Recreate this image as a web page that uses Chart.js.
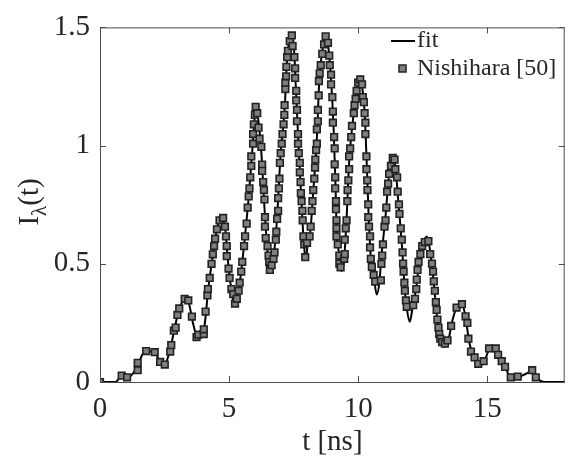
<!DOCTYPE html>
<html>
<head>
<meta charset="utf-8">
<script src="https://cdn.jsdelivr.net/npm/chart.js@4.4.0/dist/chart.umd.min.js"></script>
<style>
  html, body { margin: 0; padding: 0; background: #fff; }
  #wrap { width: 571px; height: 461px; }
</style>
</head>
<body>
<div id="wrap"><canvas id="chart" width="571" height="461"></canvas></div>
<script>
// tick labels
const xTicks = [0, 5, 10, 15];
const yTicks = [0, 0.5, 1, 1.5];

// fit curve
const fitT = [0, 0.6, 0.8, 1.1, 1.3, 1.5, 1.7, 2.1, 2.3, 2.5, 2.65, 2.8, 3.0, 3.15, 3.3, 3.45, 3.6, 3.75, 3.9,
  4.05, 4.2, 4.35, 4.5, 4.65, 4.75, 4.85, 4.95, 5.05, 5.2, 5.3, 5.45, 5.6, 5.75, 5.9, 6.0, 6.05, 6.12, 6.25,
  6.38, 6.5, 6.6, 6.7, 6.85, 7.0, 7.15, 7.25, 7.35, 7.45, 7.52, 7.6, 7.7, 7.8, 7.9, 7.97, 8.05, 8.15, 8.25,
  8.4, 8.5, 8.6, 8.72, 8.85, 8.95, 9.05, 9.12, 9.17, 9.25, 9.35, 9.45, 9.55, 9.65, 9.8, 9.95, 10.05, 10.15,
  10.25, 10.33, 10.4, 10.5, 10.6, 10.72, 10.82, 10.9, 11.05, 11.2, 11.35, 11.45, 11.55, 11.7, 11.8, 11.9,
  12.0, 12.1, 12.25, 12.4, 12.55, 12.65, 12.75, 12.9, 13.05, 13.2, 13.35, 13.5, 13.65, 13.85, 14.0, 14.15,
  14.3, 14.45, 14.6, 14.75, 14.9, 15.1, 15.35, 15.5, 15.7, 15.95, 16.2, 16.5, 16.78, 16.95, 17.2, 18];
const fitI = [0, 0, 0.02, 0.02, 0.04, 0.08, 0.125, 0.13, 0.09, 0.075, 0.11, 0.18, 0.28, 0.33, 0.355, 0.33, 0.25, 0.195, 0.19,
  0.24, 0.4, 0.52, 0.63, 0.69, 0.70, 0.65, 0.52, 0.42, 0.335, 0.34, 0.45, 0.6, 0.77, 0.98, 1.13, 1.165, 1.12, 0.97,
  0.72, 0.54, 0.475, 0.51, 0.68, 0.97, 1.15, 1.37, 1.45, 1.475, 1.4, 1.21, 0.98, 0.77, 0.58, 0.52, 0.59, 0.64, 0.79,
  1.03, 1.29, 1.39, 1.47, 1.41, 1.28, 1.07, 0.84, 0.63, 0.55, 0.47, 0.51, 0.69, 0.93, 1.11, 1.24, 1.28, 1.25,
  1.14, 0.93, 0.72, 0.51, 0.45, 0.37, 0.42, 0.53, 0.69, 0.88, 0.955, 0.9, 0.77, 0.57, 0.4, 0.3,
  0.255, 0.31, 0.4, 0.54, 0.59, 0.615, 0.58, 0.45, 0.28, 0.18, 0.148, 0.18, 0.26, 0.325, 0.335, 0.28,
  0.17, 0.11, 0.08, 0.07, 0.09, 0.14, 0.14, 0.1, 0.06, 0.015, 0.02, 0.035, 0.05, 0.015, 0, 0];

const dataT = [0, 0.84, 1.05, 1.46, 1.46, 1.79, 2.12, 2.33, 2.51, 2.72, 2.76, 2.86, 2.93, 3.0, 3.07, 3.28, 3.42, 3.56,
  3.74, 3.81, 4.02, 4.02, 4.09, 4.16, 4.18, 4.25, 4.32, 4.37, 4.42, 4.46, 4.53, 4.63, 4.77, 4.84, 4.88, 4.91, 4.91,
  4.98, 5.02, 5.09, 5.16, 5.23, 5.30, 5.37, 5.41, 5.47, 5.51, 5.58, 5.62, 5.68, 5.72, 5.76, 5.79, 5.82, 5.86, 5.86,
  5.93, 5.93, 5.96, 6.0, 6.03, 6.09, 6.14, 6.18, 6.25, 6.28, 6.28, 6.32, 6.35, 6.37, 6.39, 6.39, 6.42, 6.49, 6.53,
  6.55, 6.58, 6.65, 6.72, 6.76, 6.81, 6.83, 6.86, 6.90, 6.90, 6.93, 6.95, 6.97, 7.0, 7.04, 7.07, 7.11, 7.14, 7.15,
  7.18, 7.18, 7.21, 7.22, 7.25, 7.28, 7.35, 7.43, 7.46, 7.53, 7.56, 7.56, 7.60, 7.60, 7.63, 7.63, 7.67, 7.67, 7.70,
  7.74, 7.74, 7.77, 7.78, 7.81, 7.84, 7.85, 7.88, 7.91, 7.95, 8.02, 8.12, 8.16, 8.20, 8.23, 8.26, 8.30, 8.33, 8.34,
  8.37, 8.40, 8.40, 8.44, 8.44, 8.47, 8.48, 8.51, 8.55, 8.61, 8.68, 8.74, 8.83, 8.88, 8.90, 8.95, 8.95, 9.0, 9.02,
  9.02, 9.07, 9.09, 9.09, 9.11, 9.11, 9.14, 9.14, 9.16, 9.16, 9.16, 9.21, 9.27, 9.27, 9.32, 9.46, 9.48, 9.48, 9.52,
  9.55, 9.58, 9.59, 9.62, 9.65, 9.65, 9.69, 9.73, 9.76, 9.83, 9.86, 9.90, 9.94, 10.0, 10.08, 10.15, 10.18, 10.22,
  10.25, 10.28, 10.28, 10.32, 10.32, 10.35, 10.36, 10.39, 10.39, 10.42, 10.46, 10.46, 10.49, 10.53, 10.60, 10.66,
  10.88, 10.90, 10.93, 10.96, 11.02, 11.06, 11.09, 11.12, 11.16, 11.20, 11.27, 11.34, 11.41, 11.44, 11.51, 11.53,
  11.58, 11.60, 11.65, 11.69, 11.72, 11.74, 11.76, 11.79, 11.81, 11.85, 11.88, 12.13, 12.20, 12.25, 12.27, 12.30,
  12.34, 12.41, 12.48, 12.58, 12.72, 12.79, 12.86, 12.90, 12.93, 12.97, 13.01, 13.04, 13.07, 13.11, 13.14, 13.18,
  13.25, 13.36, 13.46, 13.60, 13.81, 14.02, 14.16, 14.23, 14.27, 14.37, 14.51, 14.65, 14.86, 15.07, 15.33, 15.42,
  15.56, 15.69, 15.91, 16.18, 16.74, 16.88];
const dataI = [0, 0.027, 0.02, 0.05, 0.081, 0.131, 0.126, 0.085, 0.074, 0.129, 0.156, 0.217, 0.23, 0.284, 0.311, 0.352, 0.345, 0.277,
  0.19, 0.20, 0.203, 0.223, 0.298, 0.366, 0.393, 0.44, 0.50, 0.54, 0.575, 0.606, 0.646, 0.684, 0.694, 0.657, 0.616, 0.575, 0.532,
  0.48, 0.44, 0.393, 0.372, 0.332, 0.352, 0.386, 0.42, 0.467, 0.508, 0.575, 0.616, 0.67, 0.738, 0.785, 0.819, 0.866, 0.914, 0.954,
  1.008, 1.049, 1.09, 1.13, 1.164, 1.137, 1.076, 1.029, 0.995, 0.92, 0.893, 0.846, 0.812, 0.772, 0.697, 0.657, 0.609, 0.575, 0.535,
  0.508, 0.474, 0.494, 0.521, 0.548, 0.602, 0.636, 0.69, 0.724, 0.778, 0.819, 0.86, 0.927, 0.968, 1.008, 1.049, 1.09, 1.13, 1.171,
  1.239, 1.266, 1.293, 1.333, 1.374, 1.401, 1.442, 1.466, 1.421, 1.374, 1.327, 1.286, 1.232, 1.191, 1.151, 1.103, 1.049, 1.008, 0.968,
  0.927, 0.887, 0.846, 0.799, 0.765, 0.724, 0.684, 0.616, 0.582, 0.528, 0.589, 0.616, 0.657, 0.724, 0.765, 0.812, 0.86, 0.907, 0.941,
  0.981, 1.008, 1.069, 1.103, 1.151, 1.212, 1.273, 1.306, 1.34, 1.388, 1.428, 1.462, 1.435, 1.381, 1.34, 1.30, 1.259, 1.205, 1.144,
  1.097, 1.036, 0.988, 0.921, 0.866, 0.819, 0.765, 0.731, 0.684, 0.65, 0.616, 0.582, 0.535, 0.501, 0.485, 0.521, 0.541, 0.602, 0.65,
  0.684, 0.765, 0.812, 0.853, 0.9, 0.954, 0.988, 1.036, 1.083, 1.137, 1.171, 1.198, 1.232, 1.266, 1.28, 1.259, 1.205, 1.184,
  1.137, 1.097, 1.049, 0.954, 0.9, 0.853, 0.812, 0.751, 0.697, 0.657, 0.616, 0.569, 0.521, 0.487, 0.453, 0.425,
  0.43, 0.50, 0.535, 0.582, 0.657, 0.684, 0.738, 0.805, 0.839, 0.88, 0.914, 0.948, 0.941, 0.9, 0.866, 0.805,
  0.751, 0.711, 0.65, 0.602, 0.548, 0.501, 0.467, 0.42, 0.386, 0.345, 0.318, 0.325, 0.352, 0.393, 0.433, 0.474,
  0.508, 0.541, 0.575, 0.592, 0.596, 0.541, 0.501, 0.467, 0.426, 0.386, 0.338, 0.305, 0.264, 0.23, 0.203, 0.183,
  0.169, 0.162, 0.176, 0.237, 0.315, 0.329, 0.278, 0.25, 0.183, 0.129, 0.104, 0.077, 0.088, 0.142, 0.142, 0.115,
  0.088, 0.064, 0.02, 0.023, 0.05, 0.02];

const SERIF = '"Liberation Serif", "Times New Roman", serif';
const AXIS = '#4d4d4d';
const MARK_FILL = '#7f7f7f';
const MARK_EDGE = '#222222';

// box, inward ticks, titles and legend, drawn MATLAB style
const frame = {
  id: 'frame',
  afterDraw(chart) {
    const { ctx, chartArea: a, scales } = chart;
    ctx.save();
    ctx.strokeStyle = AXIS;
    ctx.lineWidth = 1;
    ctx.strokeRect(a.left + 0.5, a.top + 0.5, a.right - a.left - 1, a.bottom - a.top);
    const tl = 6;
    ctx.beginPath();
    xTicks.forEach(v => {
      const px = Math.round(scales.x.getPixelForValue(v)) + 0.5;
      ctx.moveTo(px, a.bottom); ctx.lineTo(px, a.bottom - tl);
      ctx.moveTo(px, a.top); ctx.lineTo(px, a.top + tl);
    });
    yTicks.forEach(v => {
      const py = Math.round(scales.y.getPixelForValue(v)) + 0.5;
      ctx.moveTo(a.left, py); ctx.lineTo(a.left + tl, py);
      ctx.moveTo(a.right, py); ctx.lineTo(a.right - tl, py);
    });
    ctx.stroke();

    ctx.fillStyle = '#262626';
    // x title
    ctx.font = `29px ${SERIF}`;
    ctx.textAlign = 'center';
    ctx.textBaseline = 'alphabetic';
    ctx.fillText('t [ns]', (a.left + a.right) / 2, 450);

    // y title with subscript lambda
    ctx.save();
    ctx.translate(38, 202);
    ctx.rotate(-Math.PI / 2);
    ctx.textAlign = 'left';
    const big = `29px ${SERIF}`, small = `21px ${SERIF}`;
    ctx.font = big; const wI = ctx.measureText('I').width;
    ctx.font = small; const wL = ctx.measureText('λ').width;
    ctx.font = big; const wT = ctx.measureText('(t)').width;
    let x0 = -(wI + wL + wT) / 2;
    ctx.font = big; ctx.fillText('I', x0, 0);
    ctx.font = small; ctx.fillText('λ', x0 + wI, 8);
    ctx.font = big; ctx.fillText('(t)', x0 + wI + wL, 0);
    ctx.restore();

    // legend
    ctx.font = `24px ${SERIF}`;
    ctx.textAlign = 'left';
    ctx.textBaseline = 'middle';
    ctx.strokeStyle = '#000';
    ctx.lineWidth = 2;
    ctx.beginPath(); ctx.moveTo(391, 41); ctx.lineTo(415, 41); ctx.stroke();
    ctx.fillText('fit', 417, 41);
    ctx.fillStyle = MARK_FILL;
    ctx.strokeStyle = MARK_EDGE;
    ctx.lineWidth = 1.5;
    ctx.fillRect(399, 65, 7, 7);
    ctx.strokeRect(399, 65, 7, 7);
    ctx.fillStyle = '#262626';
    ctx.fillText('Nishihara [50]', 417, 69);
    ctx.restore();
  }
};

new Chart(document.getElementById('chart'), {
  type: 'scatter',
  data: {
    datasets: [
      {
        label: 'fit',
        data: fitT.map((t, i) => ({ x: t, y: fitI[i] })),
        showLine: true,
        borderColor: '#000',
        borderWidth: 2,
        pointRadius: 0,
        cubicInterpolationMode: 'monotone',
        order: 2
      },
      {
        label: 'Nishihara [50]',
        data: dataT.map((t, i) => ({ x: t, y: dataI[i] })),
        showLine: false,
        pointStyle: 'rect',
        pointRadius: 4.7,
        pointBackgroundColor: MARK_FILL,
        pointBorderColor: MARK_EDGE,
        pointBorderWidth: 1.6,
        order: 1
      }
    ]
  },
  options: {
    responsive: false,
    animation: false,
    layout: { padding: { top: 14, right: 1, left: 0, bottom: 0 } },
    plugins: { legend: { display: false }, tooltip: { enabled: false } },
    scales: {
      x: {
        type: 'linear', min: 0, max: 18,
        afterBuildTicks: s => { s.ticks = xTicks.map(v => ({ value: v })); },
        afterFit: s => { s.height = 79; },
        grid: { display: false, drawTicks: false },
        border: { display: false },
        ticks: { font: { family: SERIF, size: 29 }, color: '#262626', padding: 10, maxRotation: 0,
          callback: v => String(v) }
      },
      y: {
        type: 'linear', min: 0, max: 1.5,
        afterBuildTicks: s => { s.ticks = yTicks.map(v => ({ value: v })); },
        afterFit: s => { s.width = 100; },
        grid: { display: false, drawTicks: false },
        border: { display: false },
        ticks: { font: { family: SERIF, size: 29 }, color: '#262626', padding: 10,
          callback: v => String(v) }
      }
    }
  },
  plugins: [frame]
});
</script>
</body>
</html>
